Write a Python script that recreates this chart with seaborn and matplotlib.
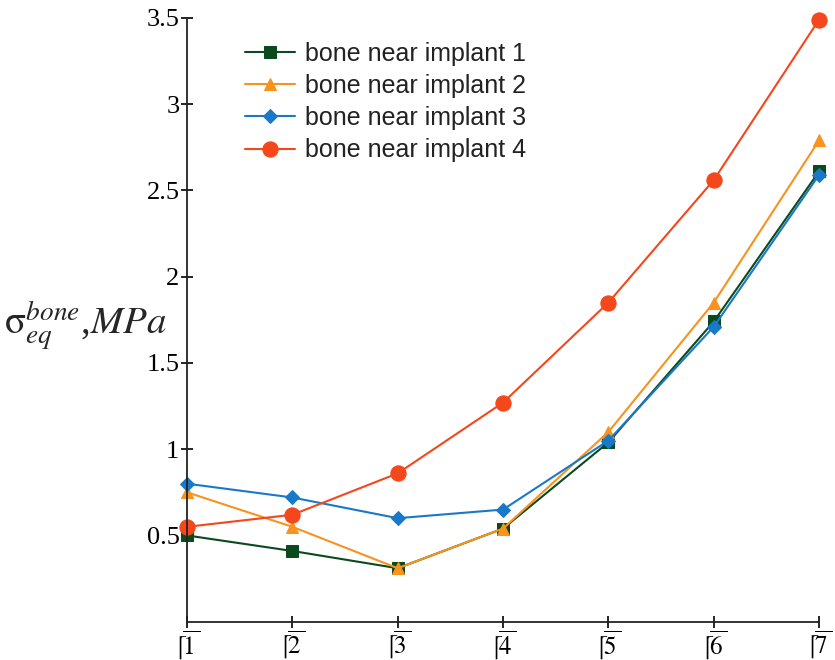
import pandas as pd
import matplotlib.pyplot as plt
import seaborn as sns

positions = [1, 2, 3, 4, 5, 6, 7]
tick_labels = [r'$\lceil\!\overline{%d\,}$' % p for p in positions]
series_names = ['bone near implant 1', 'bone near implant 2',
                'bone near implant 3', 'bone near implant 4']
implant1 = [0.50, 0.41, 0.31, 0.54, 1.04, 1.74, 2.61]
implant2 = [0.75, 0.55, 0.31, 0.54, 1.10, 1.85, 2.79]
implant3 = [0.80, 0.72, 0.60, 0.65, 1.05, 1.71, 2.59]
implant4 = [0.55, 0.62, 0.86, 1.27, 1.85, 2.56, 3.49]

colors = ['#0b4a1c', '#f7931e', '#1a78c8', '#f4471b']
markers = ['s', '^', 'D', 'o']
msizes = [9, 9, 7, 11]

rows = []
for name, vals in zip(series_names, [implant1, implant2, implant3, implant4]):
    for p, v in zip(positions, vals):
        rows.append({'pos': p, 'stress': v, 'series': name})
data = pd.DataFrame(rows)

sns.set_style('white')
plt.rcParams['mathtext.fontset'] = 'stix'
plt.rcParams['font.family'] = ['Liberation Serif', 'DejaVu Serif']

fig = plt.figure(figsize=(8.35, 6.6), dpi=100)
ax = fig.add_axes([0.224, 0.058, 0.757, 0.915])

for name, c, m, ms in zip(series_names, colors, markers, msizes):
    sns.lineplot(x='pos', y='stress', data=data[data['series'] == name],
                 color=c, marker=m, markersize=ms, markeredgecolor=c,
                 linewidth=1.5, label=name, ax=ax, clip_on=False)

ax.set_xlim(1, 7)
ax.set_ylim(0, 3.5)
ax.set_xticks(positions)
ax.set_xticklabels(tick_labels, fontsize=18)
ax.set_yticks([0.5, 1, 1.5, 2, 2.5, 3, 3.5])
ax.set_yticklabels(['0.5', '1', '1.5', '2', '2.5', '3', '3.5'], fontsize=19)
ax.tick_params(direction='inout', length=9, width=1.2, colors='black',
               bottom=True, left=True)
ax.tick_params(axis='x', pad=0)
ax.tick_params(axis='y', pad=1)
for s in ['top', 'right']:
    ax.spines[s].set_visible(False)
for s in ['left', 'bottom']:
    ax.spines[s].set_color('#222222')
    ax.spines[s].set_linewidth(1.3)

ax.set_xlabel('')
ax.set_ylabel(r'$\mathrm{\sigma}_{eq}^{bone}$,$MPa$', fontsize=28, rotation=0,
              labelpad=0, va='center', ha='center')
ax.yaxis.set_label_coords(-0.16, 0.49)

leg = ax.legend(loc='upper left', bbox_to_anchor=(0.056, 0.998), frameon=False,
                prop={'family': 'Liberation Sans', 'size': 18},
                handlelength=2.0, handletextpad=0.4, labelspacing=0.33,
                labelcolor='#222222')

fig.savefig('out.png', dpi=100)
